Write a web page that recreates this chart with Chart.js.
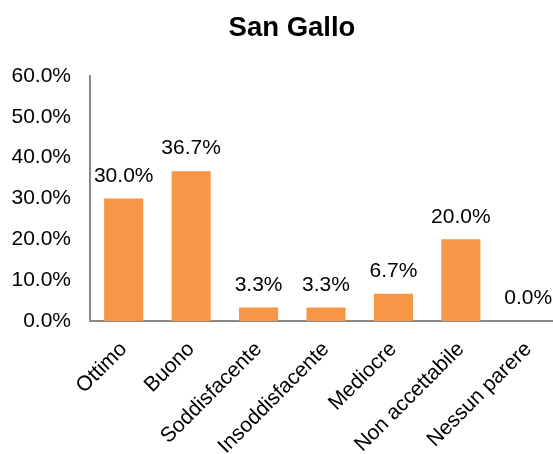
<!DOCTYPE html>
<html>
<head>
<meta charset="utf-8">
<script src="https://cdn.jsdelivr.net/npm/chart.js@4.4.0/dist/chart.umd.min.js"></script>
<style>
  html, body { margin: 0; padding: 0; background: #fff; overflow: hidden; }
</style>
</head>
<body>
<canvas id="myChart" width="584" height="454"></canvas>
<script>
const categorie = ['Ottimo', 'Buono', 'Soddisfacente', 'Insoddisfacente', 'Mediocre', 'Non accettabile', 'Nessun parere'];
const valori = [30.0, 36.7, 3.3, 3.3, 6.7, 20.0, 0.0]; // percentuali
const tickY = [0, 10, 20, 30, 40, 50, 60];

const FONT = "'Liberation Sans', Arial, sans-serif";

// etichette sopra le barre (niente plugin datalabels disponibile)
const etichette = {
    id: 'etichette',
    afterLayout(chart) {
        // il titolo nell'originale e' centrato un po' piu' a destra
        if (chart.titleBlock) {
            chart.titleBlock.left += 11;
            chart.titleBlock.right += 11;
        }
    },
    afterDatasetsDraw(chart) {
        const ctx = chart.ctx;
        const meta = chart.getDatasetMeta(0);
        ctx.save();
        ctx.font = '21px ' + FONT;
        ctx.fillStyle = '#000';
        ctx.textAlign = 'center';
        ctx.textBaseline = 'bottom';
        meta.data.forEach((bar, i) => {
            ctx.fillText(valori[i].toFixed(1) + '%', bar.x, bar.y - 12);
        });
        ctx.restore();
    }
};

const barChart = document.getElementById('myChart').getContext('2d');

const myChart = new Chart(barChart, {
    type: 'bar',
    data: {
        labels: categorie,
        datasets: [{
            data: valori,
            backgroundColor: '#F79646',
            borderWidth: 0,
            categoryPercentage: 1,
            barPercentage: 0.58
        }]
    },
    options: {
        responsive: false,
        animation: false,
        layout: { padding: { left: 0, right: 22, top: 0, bottom: 0 } },
        plugins: {
            legend: { display: false },
            tooltip: { enabled: false },
            title: {
                display: true,
                text: 'San Gallo',
                color: '#000',
                font: { family: FONT, size: 27.5, weight: 'bold' },
                padding: { top: 12, bottom: 31 }
            }
        },
        scales: {
            x: {
                grid: { display: false, drawTicks: false },
                border: { color: '#898989', width: 2 },
                ticks: {
                    color: '#000',
                    font: { family: FONT, size: 21 },
                    minRotation: 45,
                    maxRotation: 45,
                    padding: 16
                },
                afterFit(axis) { axis.height = 133; }
            },
            y: {
                min: 0,
                max: 60,
                grid: { display: false, drawTicks: false },
                border: { color: '#898989', width: 2 },
                afterBuildTicks(axis) { axis.ticks = tickY.map(v => ({ value: v })); },
                ticks: {
                    color: '#000',
                    font: { family: FONT, size: 21 },
                    padding: 19,
                    callback: v => v.toFixed(1) + '%'
                },
                afterFit(axis) { axis.width = 90; }
            }
        }
    },
    plugins: [etichette]
});
</script>
</body>
</html>
